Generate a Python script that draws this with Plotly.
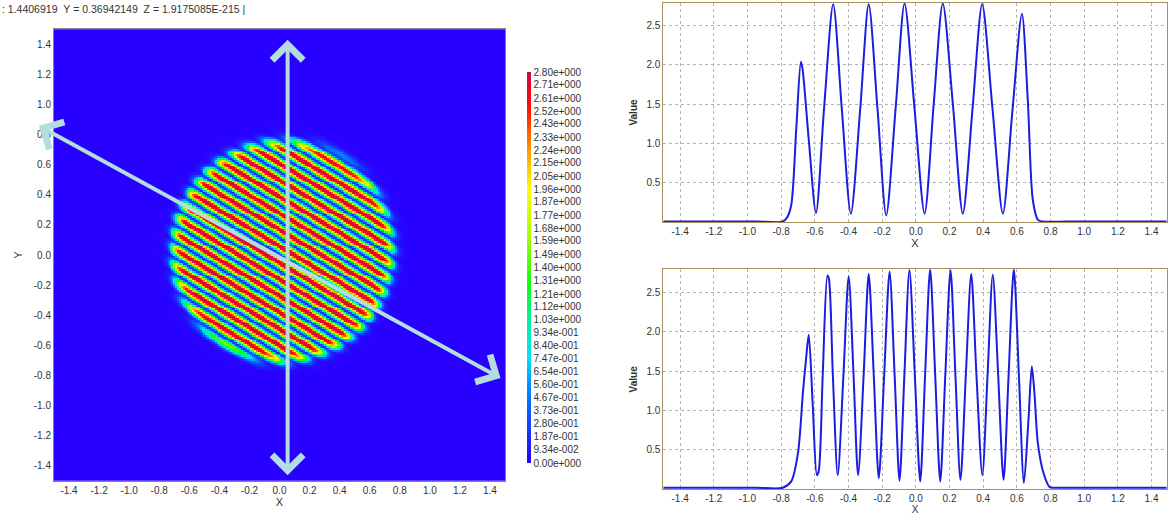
import numpy as np
import plotly.graph_objects as go

# cursor readout printed above the map
readout = ": 1.4406919  Y = 0.36942149  Z = 1.9175085E-215 |"

# colour bar labels, bottom to top
cbar_labels = ["0.00e+000", "9.34e-002", "1.87e-001", "2.80e-001", "3.73e-001",
               "4.67e-001", "5.60e-001", "6.54e-001", "7.47e-001", "8.40e-001",
               "9.34e-001", "1.03e+000", "1.12e+000", "1.21e+000", "1.31e+000",
               "1.40e+000", "1.49e+000", "1.59e+000", "1.68e+000", "1.77e+000",
               "1.87e+000", "1.96e+000", "2.05e+000", "2.15e+000", "2.24e+000",
               "2.33e+000", "2.43e+000", "2.52e+000", "2.61e+000", "2.71e+000",
               "2.80e+000"]

axis_ticks = [-1.4, -1.2, -1.0, -0.8, -0.6, -0.4, -0.2, 0.0, 0.2, 0.4, 0.6, 0.8, 1.0, 1.2, 1.4]
axis_labels = ["-1.4", "-1.2", "-1.0", "-0.8", "-0.6", "-0.4", "-0.2", "0.0",
               "0.2", "0.4", "0.6", "0.8", "1.0", "1.2", "1.4"]
value_ticks = [0.5, 1.0, 1.5, 2.0, 2.5]
value_labels = ["0.5", "1.0", "1.5", "2.0", "2.5"]

grid_n = 241
disk_cx, disk_cy, disk_r = 0.02, 0.025, 0.73
edge_w = 0.035
stripe_slope = 0.6      # stripes fall to the right
stripe_dy = 0.11        # vertical spacing of the stripes
stripe_shift = 0.02
stripe_sharp = 0.75     # <1 widens the bright bands
z_floor, z_peak = 0.12, 2.80
rim_glow = 0.45

# profile along the slanted cut (top right)
cut1_x = [-1.50, -1.2, -0.95, -0.79, -0.765, -0.74, -0.71, -0.683, -0.673, -0.636, -0.593,
          -0.545, -0.491, -0.44, -0.386, -0.33, -0.28, -0.228, -0.176, -0.12,
          -0.067, -0.008, 0.052, 0.106, 0.160, 0.22, 0.279, 0.337, 0.394,
          0.455, 0.517, 0.573, 0.630, 0.665, 0.695, 0.725, 0.75, 0.9, 1.2, 1.49]
cut1_v = [0.01, 0.01, 0.01, 0.01, 0.06, 0.22, 1.20, 2.04, 1.95, 1.05, 0.12,
          1.45, 2.77, 1.45, 0.11, 1.45, 2.77, 1.45, 0.09, 1.45,
          2.78, 1.45, 0.11, 1.50, 2.78, 1.50, 0.11, 1.45, 2.77,
          1.45, 0.11, 1.40, 2.645, 1.55, 0.28, 0.03, 0.01, 0.01, 0.01, 0.01]

# profile along the vertical cut (bottom right)
cut2_x = [-1.50, -1.2, -0.95, -0.79, -0.74, -0.70, -0.671, -0.651, -0.636, -0.612, -0.588,
          -0.577, -0.553, -0.525, -0.517, -0.493, -0.464, -0.43, -0.399, -0.37,
          -0.343, -0.31, -0.28, -0.25, -0.22, -0.188, -0.156, -0.126, -0.097,
          -0.068, -0.038, -0.006, 0.026, 0.055, 0.085, 0.115, 0.145, 0.175,
          0.206, 0.235, 0.265, 0.297, 0.329, 0.36, 0.395, 0.426, 0.457,
          0.489, 0.521, 0.551, 0.582, 0.612, 0.642, 0.668, 0.689, 0.705,
          0.725, 0.759, 0.794, 0.82, 0.95, 1.2, 1.49]
cut2_v = [0.02, 0.02, 0.02, 0.02, 0.10, 0.46, 1.22, 1.68, 1.96, 1.05, 0.18,
          0.23, 1.45, 2.71, 2.68, 1.45, 0.18, 1.45, 2.70, 1.45,
          0.18, 1.45, 2.73, 1.45, 0.14, 1.45, 2.76, 1.45, 0.11,
          1.45, 2.78, 1.45, 0.10, 1.45, 2.79, 1.45, 0.10, 1.45,
          2.78, 1.45, 0.12, 1.45, 2.73, 1.45, 0.18, 1.45, 2.72,
          1.45, 0.12, 1.45, 2.79, 1.45, 0.08, 0.85, 1.56, 1.20,
          0.58, 0.20, 0.03, 0.02, 0.02, 0.02, 0.02]

# arrows drawn over the map (tip, other tip) in map coordinates
arrow_vert = ((0.054, 1.43), (0.054, -1.474))
arrow_diag = ((1.47, -0.818), (-1.61, 0.864))

colorscale = [[0.0, "#2800ff"], [0.1, "#1444ff"], [0.2, "#0090ff"], [0.27, "#00e4f4"],
              [0.36, "#00f0a0"], [0.46, "#10ff10"], [0.58, "#a8ff00"], [0.7, "#ffff00"],
              [0.8, "#ff9c00"], [0.9, "#ff1400"], [0.96, "#f00024"], [1.0, "#c8104c"]]

W, H = 1173, 521
map_px = (54, 505, 29.3, 480.7)  # left, right, top, bottom in pixels
map_dom_x = [map_px[0] / W, map_px[1] / W]
map_dom_y = [1 - map_px[3] / H, 1 - map_px[2] / H]

gx = np.linspace(-1.5, 1.5, grid_n)
GX, GY = np.meshgrid(gx, gx)
r = np.hypot(GX - disk_cx, GY - disk_cy)
u = (GY - disk_cy) + stripe_slope * (GX - disk_cx) - stripe_shift
fringe = (np.cos(np.pi * u / stripe_dy) ** 2) ** stripe_sharp
env = 0.5 * (1 - np.tanh((r - disk_r) / edge_w))
Z = env * (z_floor + (z_peak - z_floor) * fringe) + rim_glow * np.exp(-((r - disk_r) / 0.03) ** 2) * 0.3

fig = go.Figure()
fig.add_trace(go.Heatmap(
    x=gx, y=gx, z=Z, zmin=0, zmax=2.8, colorscale=colorscale,
    xaxis="x", yaxis="y", hoverinfo="skip",
    colorbar=dict(x=527 / W, xanchor="left", xpad=0, y=1 - 463 / H, yanchor="bottom",
                  len=(463 - 72) / H, lenmode="fraction", ypad=0, thickness=4,
                  outlinewidth=0, tickvals=[float(s) for s in cbar_labels],
                  ticktext=cbar_labels, ticks="", tickfont=dict(size=10, color="#333"))
))
fig.add_trace(go.Scatter(x=cut1_x, y=cut1_v, mode="lines", line=dict(color="#1c1ce0", width=2, shape="spline", smoothing=0.8),
                         xaxis="x2", yaxis="y2", showlegend=False))
fig.add_trace(go.Scatter(x=cut2_x, y=cut2_v, mode="lines", line=dict(color="#1c1ce0", width=2, shape="spline", smoothing=0.8),
                         xaxis="x3", yaxis="y3", showlegend=False))


def to_paper(px, py):
    # map coordinates -> paper fraction
    fx = map_dom_x[0] + (px + 1.5) / 3.0 * (map_dom_x[1] - map_dom_x[0])
    fy = map_dom_y[0] + (py + 1.5) / 3.0 * (map_dom_y[1] - map_dom_y[0])
    return fx, fy


annotations = []
for tip, tail in (arrow_vert, arrow_diag):
    hx, hy = to_paper(*tip)
    tx, ty = to_paper(*tail)
    annotations.append(dict(
        x=hx, y=hy, xref="paper", yref="paper", text="",
        ax=(tx - hx) * W, ay=-(ty - hy) * H, axref="pixel", ayref="pixel",
        showarrow=True, arrowside="end+start", arrowhead=4, startarrowhead=4,
        arrowsize=1.5, startarrowsize=1.5, arrowwidth=4, arrowcolor="#b4dde0"))
annotations.append(dict(x=0.0, y=1 - 9 / H, xref="paper", yref="paper", xanchor="left",
                        yanchor="middle", showarrow=False,
                        text=readout.replace(" ", "\u00a0"),
                        font=dict(size=10.5, color="#333")))

tickfont = dict(size=10, color="#333")
map_axis = dict(range=[-1.5, 1.5], tickvals=axis_ticks, ticktext=axis_labels, ticks="",
                showgrid=False, zeroline=False, tickfont=tickfont, showline=True,
                linecolor="#8a7a9a", linewidth=1, mirror=True)
line_x = dict(range=[-1.5, 1.49], tickvals=axis_ticks, ticktext=axis_labels, ticks="",
              showgrid=True, gridcolor="#b4b4b4", griddash="dot", zeroline=False,
              tickfont=tickfont, showline=True, linecolor="#a8905e", mirror=True,
              title=dict(text="X", font=dict(size=11, color="#333"), standoff=0))
line_y = dict(range=[0, 2.79], tickvals=value_ticks, ticktext=value_labels, ticks="",
              showgrid=True, gridcolor="#b4b4b4", griddash="dot", zeroline=False,
              tickfont=tickfont, showline=True, linecolor="#a8905e", mirror=True,
              title=dict(text="<b>Value</b>", font=dict(size=10, color="#333"), standoff=6))

top_dom = [1 - 222.3 / H, 1 - 2.7 / H]
bot_dom = [1 - 489.3 / H, 1 - 269.3 / H]
right_dom = [663.3 / W, 1166.7 / W]

fig.update_layout(
    width=W, height=H, margin=dict(l=0, r=0, t=0, b=0, autoexpand=False),
    paper_bgcolor="white", plot_bgcolor="white",
    font=dict(family="Liberation Sans, Arial, sans-serif", size=10, color="#333"),
    showlegend=False,
    xaxis=dict(map_axis, domain=map_dom_x, anchor="y",
               title=dict(text="X", font=dict(size=11, color="#333"), standoff=0)),
    yaxis=dict(map_axis, domain=map_dom_y, anchor="x",
               title=dict(text="Y", font=dict(size=11, color="#333"), standoff=8)),
    xaxis2=dict(line_x, domain=right_dom, anchor="y2"),
    yaxis2=dict(line_y, domain=top_dom, anchor="x2"),
    xaxis3=dict(line_x, domain=right_dom, anchor="y3",
                title=dict(text="X", font=dict(size=10, color="#333"), standoff=0)),
    yaxis3=dict(line_y, domain=bot_dom, anchor="x3"),
    annotations=annotations,
)

# the page body has a default 8px margin; drop it so the figure fills the window
fig.write_html("out.html", config={"displayModeBar": False},
               post_script="document.body.style.margin='0';")
